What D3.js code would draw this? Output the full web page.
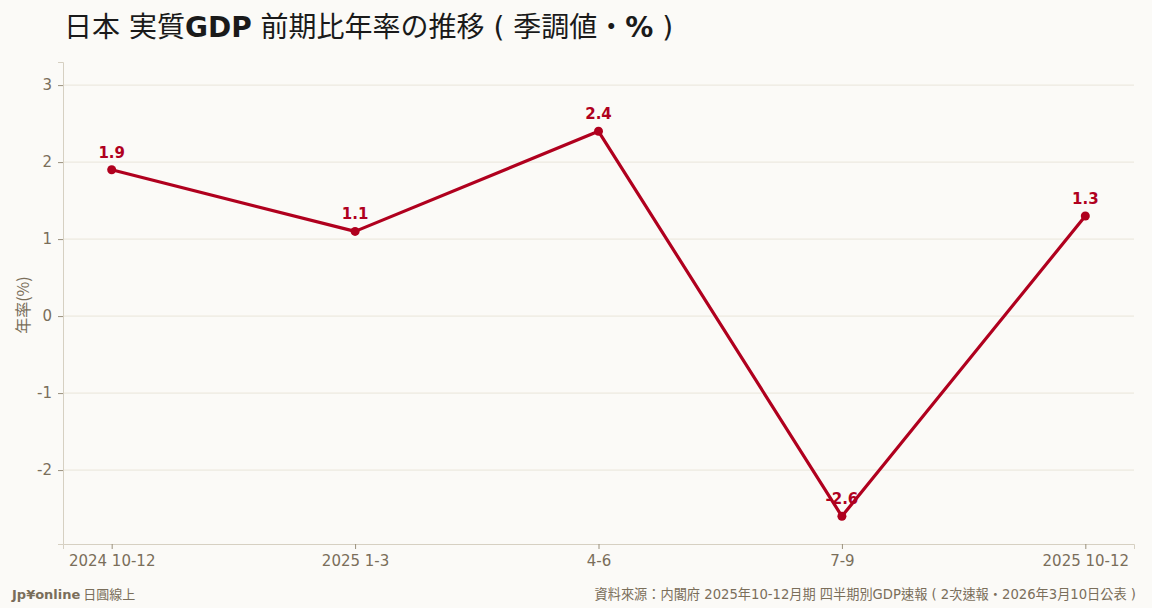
<!DOCTYPE html>
<html>
<head>
<meta charset="utf-8">
<script src="https://cdn.jsdelivr.net/npm/d3@7"></script>
<style>
  html, body { margin: 0; padding: 0; background: #fbfaf7; }
  svg { display: block; }
</style>
</head>
<body>
<div id="chart"></div>
<script>
// quarters and annualised q/q real GDP growth (%)
const quarters = ["2024 10-12", "2025 1-3", "4-6", "7-9", "2025 10-12"];
const growth = [1.9, 1.1, 2.4, -2.6, 1.3];
const yTicks = [-2, -1, 0, 1, 2, 3];

const width = 1152, height = 608;
const margin = {top: 62, right: 18, bottom: 64, left: 63};

const lineColor = "#b0001e";
const textColor = "#7a6e5a";
const fontLatin = "'DejaVu Sans', 'Noto Sans CJK JP', sans-serif";
const fontCJK = "'Noto Sans CJK JP', sans-serif";

const svg = d3.select("#chart").append("svg")
  .attr("width", width)
  .attr("height", height);

svg.append("rect")
  .attr("width", width).attr("height", height)
  .attr("fill", "#fbfaf7");

const x = d3.scalePoint()
  .domain(quarters)
  .range([margin.left, width - margin.right])
  .padding(0.2);

const y = d3.scaleLinear()
  .domain([-2.96, 3.3])
  .range([height - margin.bottom, margin.top]);

// gridlines
svg.append("g")
  .selectAll("line")
  .data(yTicks)
  .join("line")
    .attr("x1", margin.left)
    .attr("x2", width - margin.right)
    .attr("y1", d => y(d))
    .attr("y2", d => y(d))
    .attr("stroke", "#e9e5da")
    .attr("stroke-width", 1);

// y axis
const yAxis = svg.append("g")
  .attr("transform", `translate(${margin.left},0)`)
  .call(d3.axisLeft(y).tickValues(yTicks).tickSize(5).tickPadding(6)
    .tickFormat(d => String(d)));

// x axis
const xAxis = svg.append("g")
  .attr("transform", `translate(0,${height - margin.bottom})`)
  .call(d3.axisBottom(x).tickSize(5).tickPadding(6));

[yAxis, xAxis].forEach(g => {
  g.select(".domain").attr("stroke", "#d6d0c2");
  g.selectAll(".tick line").attr("stroke", "#9a907c");
  g.selectAll("text")
    .attr("fill", textColor)
    .style("font-family", fontLatin)
    .style("font-size", "15px");
});

// y axis label
svg.append("text")
  .attr("transform", `translate(29,${y(0) - 11}) rotate(-90)`)
  .attr("text-anchor", "middle")
  .attr("fill", textColor)
  .style("font-family", fontCJK)
  .style("font-size", "16px")
  .text("年率(%)");

// line
const line = d3.line()
  .x((d, i) => x(quarters[i]))
  .y(d => y(d));

svg.append("path")
  .datum(growth)
  .attr("d", line)
  .attr("fill", "none")
  .attr("stroke", lineColor)
  .attr("stroke-width", 3.2)
  .attr("stroke-linejoin", "round");

svg.append("g")
  .selectAll("circle")
  .data(growth)
  .join("circle")
    .attr("cx", (d, i) => x(quarters[i]))
    .attr("cy", d => y(d))
    .attr("r", 4.5)
    .attr("fill", lineColor);

svg.append("g")
  .selectAll("text")
  .data(growth)
  .join("text")
    .attr("x", (d, i) => x(quarters[i]))
    .attr("y", d => y(d) - 12)
    .attr("text-anchor", "middle")
    .attr("fill", lineColor)
    .style("font-family", fontLatin)
    .style("font-weight", "bold")
    .style("font-size", "15px")
    .text(d => d.toFixed(1));

// title: latin in DejaVu (GDP and % bold), japanese falls back to Noto CJK
const title = svg.append("text")
  .attr("x", 64)
  .attr("y", 37)
  .attr("fill", "#1a1a1a")
  .style("font-family", fontLatin)
  .style("font-size", "28px");
[["日本 実質", false], ["GDP", true], [" 前期比年率の推移 ( 季調値・", false], ["%", true], [" )", false]]
  .forEach(([t, b]) => {
    title.append("tspan")
      .style("font-weight", b ? "bold" : "normal")
      .text(t);
  });

// footer
const footL = svg.append("text")
  .attr("x", 12)
  .attr("y", 599)
  .attr("fill", textColor)
  .style("font-size", "13px");
footL.append("tspan")
  .style("font-family", fontLatin)
  .style("font-weight", "bold")
  .text("Jp¥online");
footL.append("tspan")
  .style("font-family", fontCJK)
  .text(" 日圓線上");

svg.append("text")
  .attr("x", width - 16)
  .attr("y", 599)
  .attr("text-anchor", "end")
  .attr("fill", textColor)
  .style("font-family", "'DejaVu Sans', 'Noto Sans CJK TC', sans-serif")
  .style("font-size", "13.2px")
  .text("資料來源：内閣府 2025年10-12月期 四半期別GDP速報 ( 2次速報・2026年3月10日公表 )");
</script>
</body>
</html>
